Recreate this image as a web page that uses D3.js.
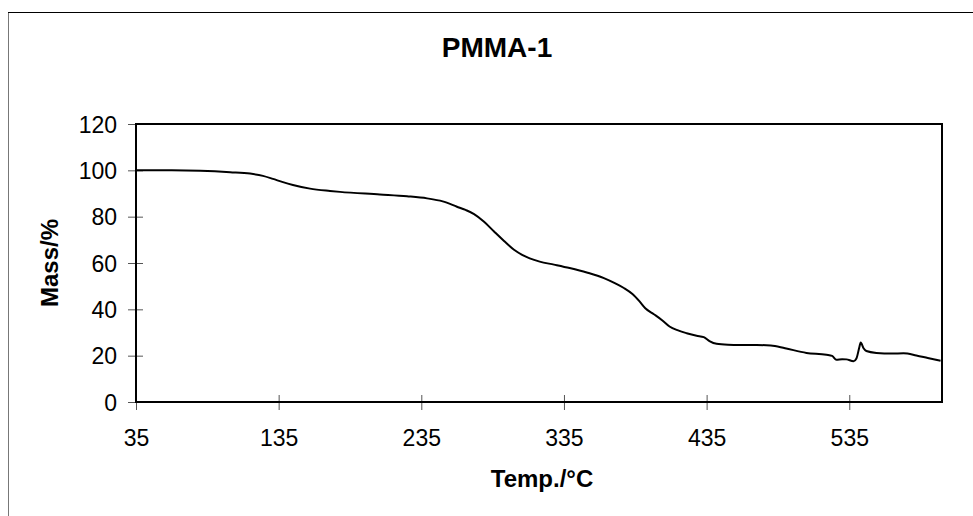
<!DOCTYPE html>
<html>
<head>
<meta charset="utf-8">
<script src="https://cdn.jsdelivr.net/npm/d3@7"></script>
<style>
  body { margin: 0; background: #fff; }
  svg text { font-family: "Liberation Sans", Arial, sans-serif; fill: #000; }
</style>
</head>
<body>
<div id="container"></div>
<script>
// TGA curve
var temps = [35, 60, 80, 101, 115, 124, 131, 138, 145, 157, 171, 178, 206, 225, 239, 250, 260, 266, 272, 279,
             286, 293, 300, 306, 311, 318, 328, 339, 351, 363, 371, 377, 383, 388, 392, 398, 404, 409, 415, 421,
             428, 433, 437, 442, 450, 458, 470, 480, 490, 505, 519, 523, 526, 530, 533, 538, 540, 542, 543, 545,
             547, 554, 565, 573, 582, 590, 599];
var mass = [100.0, 100.0, 99.8, 99.2, 98.6, 97.6, 96.3, 94.9, 93.7, 92.1, 91.1, 90.7, 89.6, 88.8, 87.9, 86.6, 84.3, 82.9, 81.1, 77.8,
            73.6, 69.5, 65.7, 63.4, 62.0, 60.6, 59.3, 57.8, 55.9, 53.5, 51.2, 49.2, 46.6, 43.4, 40.5, 37.9, 35.2, 32.6, 30.9, 29.7,
            28.6, 28.0, 26.3, 25.1, 24.7, 24.6, 24.6, 24.4, 23.2, 21.2, 20.4, 19.9, 18.2, 18.5, 18.4, 17.6, 18.8, 23.5, 25.7, 23.2,
            22.0, 21.2, 20.9, 21.0, 20.1, 19.0, 17.8];
var xTicks = [35, 135, 235, 335, 435, 535];
var yTicks = [0, 20, 40, 60, 80, 100, 120];

var data = temps.map(function(t, i) { return { t: t, m: mass[i] }; });

var width = 973, height = 516;
var plotLeft = 136, plotRight = 942, plotTop = 124, plotBottom = 402;

var svg = d3.select("#container").append("svg")
    .attr("width", width)
    .attr("height", height);

// outer chart frame (only left and top edges fall inside the picture)
svg.append("line").attr("x1", 8.5).attr("x2", 8.5).attr("y1", 12).attr("y2", height)
    .attr("stroke", "#777").attr("stroke-width", 1);
svg.append("line").attr("x1", 8).attr("x2", width).attr("y1", 12.5).attr("y2", 12.5)
    .attr("stroke", "#000").attr("stroke-width", 1);

var x = d3.scaleLinear().domain([35, 600]).range([plotLeft, plotRight]);
var y = d3.scaleLinear().domain([0, 120]).range([plotBottom, plotTop]);

// axes
var yAxis = svg.append("g")
    .attr("transform", "translate(" + plotLeft + ",0)")
    .call(d3.axisLeft(y).tickValues(yTicks).tickSize(8).tickPadding(11));
yAxis.select(".domain").remove();
yAxis.selectAll(".tick line").attr("x1", 7).attr("stroke", "#555");
yAxis.selectAll(".tick text").attr("font-size", 23).attr("dy", "0.36em");

var xAxis = svg.append("g")
    .attr("transform", "translate(0," + plotBottom + ")")
    .call(d3.axisBottom(x).tickValues(xTicks).tickSize(8));
xAxis.select(".domain").remove();
xAxis.selectAll(".tick line").attr("y1", -7).attr("stroke", "#555");
xAxis.selectAll(".tick text").attr("font-size", 23).attr("y", 44).attr("dy", 0);

// plot box
svg.append("rect")
    .attr("x", plotLeft).attr("y", plotTop)
    .attr("width", plotRight - plotLeft).attr("height", plotBottom - plotTop)
    .attr("fill", "none").attr("stroke", "#000").attr("stroke-width", 2);

// curve
var line = d3.line()
    .x(function(d) { return x(d.t); })
    .y(function(d) { return y(d.m); })
    .curve(d3.curveMonotoneX);

svg.append("path")
    .datum(data)
    .attr("d", line)
    .attr("fill", "none")
    .attr("stroke", "#000")
    .attr("stroke-width", 2);

// labels
svg.append("text")
    .attr("x", 497).attr("y", 57)
    .attr("text-anchor", "middle")
    .attr("font-size", 28).attr("font-weight", "bold")
    .text("PMMA-1");

svg.append("text")
    .attr("x", 542).attr("y", 487)
    .attr("text-anchor", "middle")
    .attr("font-size", 24).attr("font-weight", "bold")
    .text("Temp./°C");

svg.append("text")
    .attr("transform", "translate(58,263) rotate(-90)")
    .attr("text-anchor", "middle")
    .attr("font-size", 24).attr("font-weight", "bold")
    .text("Mass/%");
</script>
</body>
</html>
